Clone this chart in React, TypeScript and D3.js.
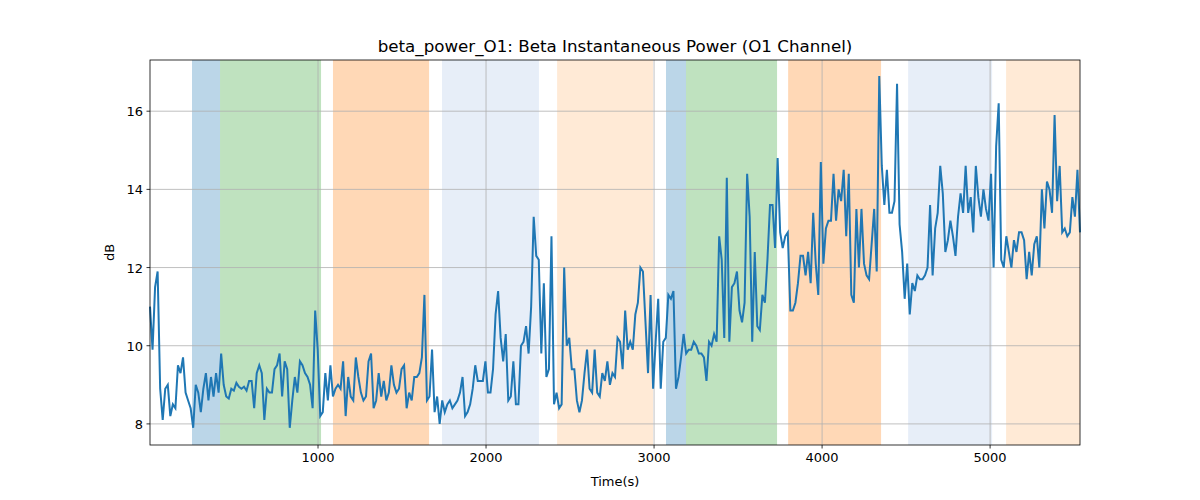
import * as d3 from "d3";

// signal values (dB), evenly sampled across the time span
const power: number[] = [
  11.0, 9.9, 11.5, 11.9, 8.9, 8.1, 8.9, 9.0, 8.2, 8.5, 8.4, 9.5, 9.3, 9.7, 8.8, 8.6, 8.4, 7.9, 9.0, 8.8,
  8.3, 8.9, 9.3, 8.6, 9.2, 8.7, 9.3, 8.8, 9.8, 9.0, 8.7, 8.65, 8.9, 8.85, 9.05, 8.95, 8.9, 8.95, 8.85, 9.1,
  9.1, 8.4, 9.3, 9.5, 9.3, 8.1, 8.9, 8.8, 8.8, 9.4, 9.5, 9.8, 8.7, 9.6, 9.4, 7.9, 8.6, 9.2, 8.8, 9.6,
  9.5, 9.3, 9.2, 9.0, 8.4, 10.9, 9.9, 8.2, 8.3, 9.3, 8.6, 9.5, 8.7, 8.9, 9.0, 8.9, 9.6, 8.2, 9.2, 8.7,
  8.6, 9.7, 9.2, 8.8, 8.6, 8.7, 9.6, 9.8, 8.4, 8.6, 9.3, 8.7, 9.1, 8.6, 8.8, 9.5, 9.0, 8.8, 8.9, 9.4,
  9.5, 8.4, 8.8, 8.6, 9.2, 9.2, 9.3, 9.7, 11.3, 8.6, 8.7, 9.9, 8.3, 8.7, 8.0, 8.6, 8.3, 8.5, 8.6, 8.4,
  8.5, 8.6, 8.8, 9.2, 8.2, 8.3, 8.5, 8.9, 9.5, 9.1, 9.1, 9.1, 9.6, 8.8, 8.8, 9.4, 10.8, 11.4, 10.2, 9.6,
  10.3, 8.6, 8.7, 9.6, 8.5, 8.5, 10.0, 10.1, 10.5, 9.8, 11.0, 13.3, 12.3, 12.2, 9.8, 11.6, 9.2, 9.4, 12.8, 8.5,
  8.8, 8.4, 8.5, 12.0, 10.0, 10.2, 9.4, 9.4, 8.6, 8.3, 8.6, 9.3, 9.9, 8.9, 8.8, 9.9, 8.8, 8.7, 9.3, 9.1,
  9.6, 9.0, 9.3, 9.2, 10.2, 10.1, 9.4, 10.9, 9.9, 10.1, 9.9, 10.8, 11.1, 12.0, 11.9, 10.6, 9.3, 11.3, 8.9, 10.1,
  11.2, 8.9, 10.1, 10.2, 11.3, 11.2, 11.4, 8.9, 9.2, 9.7, 10.3, 9.8, 9.9, 9.9, 10.1, 10.0, 9.8, 9.8, 9.7, 9.1,
  10.1, 10.0, 10.3, 10.1, 12.8, 12.2, 10.2, 14.3, 10.1, 11.5, 11.6, 11.9, 10.9, 10.6, 11.1, 14.4, 13.3, 10.1, 12.4, 10.5,
  10.4, 11.3, 11.1, 12.2, 13.6, 13.6, 12.5, 14.8, 12.9, 12.5, 12.8, 12.9, 10.9, 10.9, 11.1, 11.6, 12.3, 12.3, 11.8, 12.4,
  11.6, 13.4, 12.1, 11.3, 14.7, 12.1, 13.0, 13.2, 13.2, 14.4, 13.2, 14.0, 13.7, 14.5, 12.8, 14.4, 11.3, 11.1, 13.5, 12.0,
  13.5, 12.1, 11.8, 11.7, 12.6, 13.5, 11.9, 16.9, 14.6, 13.6, 14.5, 13.4, 13.4, 13.7, 16.7, 13.1, 12.4, 11.2, 12.1, 10.8,
  11.6, 11.4, 11.8, 11.7, 11.7, 11.8, 12.0, 13.6, 11.8, 13.0, 13.4, 14.6, 13.9, 12.4, 12.7, 13.2, 12.8, 12.3, 13.3, 13.9,
  13.4, 14.6, 13.4, 13.8, 12.9, 14.6, 13.8, 13.3, 14.0, 13.5, 13.2, 14.4, 12.0, 15.1, 16.2, 12.2, 12.0, 12.8, 12.4, 12.0,
  12.7, 12.4, 12.9, 12.9, 12.7, 11.7, 12.4, 11.8, 12.6, 12.8, 12.0, 14.0, 13.0, 14.2, 14.0, 13.4, 15.9, 13.7, 14.6, 12.9,
  13.0, 12.8, 12.9, 13.8, 13.3, 14.5, 12.9,
];
const tStart = 0;
const tEnd = 5535;

// shaded intervals [start, end, kind]
const bandStarts = [250, 417, 1089, 1738, 2423, 3071, 3190, 3798, 4512, 5095];
const bandEnds = [417, 1018, 1661, 2315, 2994, 3190, 3732, 4351, 5012, 5535];
const bandKinds = ["a", "b", "c", "d", "e", "a", "b", "c", "d", "e"];
const bandColors: Record<string, string> = {
  a: "#1f77b4",
  b: "#2ca02c",
  c: "#ff7f0e",
  d: "#aec7e8",
  e: "#ffbb78",
};

const xTicks = [1000, 2000, 3000, 4000, 5000];
const yTicks = [8, 10, 12, 14, 16];

export default function App() {
  const W = 1200, H = 500;
  const m = { left: 150, right: 120, top: 60, bottom: 55 };
  const x = d3.scaleLinear().domain([tStart, tEnd]).range([m.left, W - m.right]);
  const y = d3.scaleLinear().domain([7.46, 17.31]).range([H - m.bottom, m.top]);
  const step = (tEnd - tStart) / (power.length - 1);
  const line = d3
    .line<number>()
    .x((_, i) => x(tStart + i * step))
    .y((d) => y(d));
  const font = "DejaVu Sans, sans-serif";

  return (
    <svg width={W} height={H} style={{ position: "absolute", left: 0, top: 0 }} fontFamily={font}>
      <rect width={W} height={H} fill="#fff" />
      {bandStarts.map((s, i) => (
        <rect key={i} x={x(s)} y={m.top} width={x(bandEnds[i]) - x(s)} height={H - m.bottom - m.top}
          fill={bandColors[bandKinds[i]]} fillOpacity={0.3} />
      ))}
      {xTicks.map((t) => (
        <g key={t}>
          <line x1={x(t)} x2={x(t)} y1={m.top} y2={H - m.bottom} stroke="#b0b0b0" strokeWidth={0.8} />
          <line x1={x(t)} x2={x(t)} y1={H - m.bottom} y2={H - m.bottom + 3.5} stroke="#000" strokeWidth={0.8} />
          <text x={x(t)} y={H - m.bottom + 17} textAnchor="middle" fontSize={13}>{t}</text>
        </g>
      ))}
      {yTicks.map((t) => (
        <g key={t}>
          <line x1={m.left} x2={W - m.right} y1={y(t)} y2={y(t)} stroke="#b0b0b0" strokeWidth={0.8} />
          <line x1={m.left - 3.5} x2={m.left} y1={y(t)} y2={y(t)} stroke="#000" strokeWidth={0.8} />
          <text x={m.left - 7} y={y(t) + 5} textAnchor="end" fontSize={13}>{t}</text>
        </g>
      ))}
      <path d={line(power) ?? ""} fill="none" stroke="#1f77b4" strokeWidth={2} />
      <rect x={m.left} y={m.top} width={W - m.left - m.right} height={H - m.top - m.bottom}
        fill="none" stroke="#000" strokeWidth={0.8} />
      <text x={(m.left + W - m.right) / 2} y={m.top - 8} textAnchor="middle" fontSize={16.7}>
        beta_power_O1: Beta Instantaneous Power (O1 Channel)
      </text>
      <text x={(m.left + W - m.right) / 2} y={H - 14} textAnchor="middle" fontSize={13}>Time(s)</text>
      <text transform={`translate(114,${(m.top + H - m.bottom) / 2}) rotate(-90)`} textAnchor="middle" fontSize={13}>dB</text>
    </svg>
  );
}
